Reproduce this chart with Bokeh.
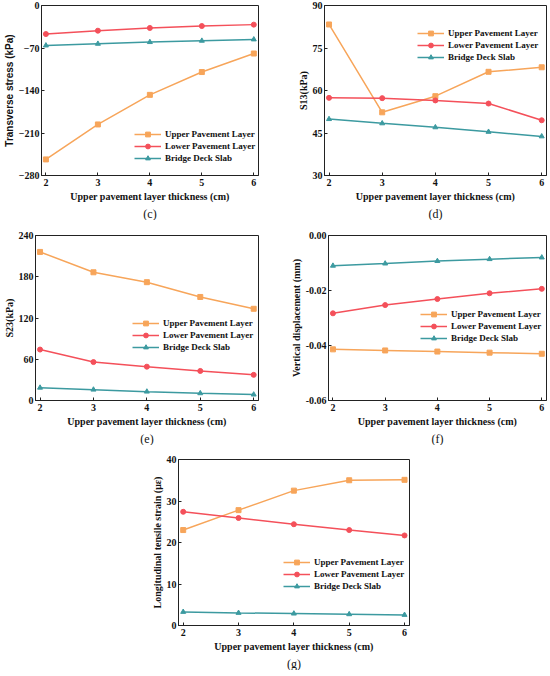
from bokeh.plotting import figure
from bokeh.layouts import column, row
from bokeh.models import Range1d, FixedTicker, Title, Legend, NumeralTickFormatter
from bokeh.embed import file_html
from bokeh.resources import INLINE

thickness = [2, 3, 4, 5, 6]
series_names = ["Upper Pavement Layer", "Lower Pavement Layer", "Bridge Deck Slab"]

# (c) Transverse stress (kPa)
c_upper = [-253.5, -195.9, -147.2, -109.6, -79.1]
c_lower = [-47.0, -41.5, -37.0, -33.8, -31.5]
c_bridge = [-65.9, -63.1, -60.3, -58.1, -55.9]

# (d) S13 (kPa)
d_upper = [83.3, 52.3, 58.0, 66.6, 68.2]
d_lower = [57.4, 57.3, 56.5, 55.4, 49.5]
d_bridge = [49.9, 48.4, 47.0, 45.4, 43.8]

# (e) S23 (kPa)
e_upper = [216.1, 186.5, 172.1, 150.6, 133.4]
e_lower = [74.1, 55.9, 49.2, 43.0, 37.3]
e_bridge = [18.6, 15.8, 12.9, 10.5, 8.6]

# (f) Vertical displacement (mm)
f_upper = [-0.0414, -0.0418, -0.0422, -0.0426, -0.0430]
f_lower = [-0.0283, -0.0253, -0.0231, -0.0210, -0.0194]
f_bridge = [-0.0110, -0.0102, -0.0093, -0.0086, -0.0080]

# (g) Longitudinal tensile strain (με)
g_upper = [23.0, 27.8, 32.5, 35.0, 35.1]
g_lower = [27.4, 25.9, 24.4, 23.0, 21.7]
g_bridge = [3.27, 3.03, 2.87, 2.71, 2.55]

COLORS = ["#F7A55A", "#F4505A", "#3C9AA0"]
MARKERS = ["square", "circle", "triangle"]
SERIF = "Liberation Serif"
XLABEL = "Upper pavement layer thickness (cm)"


def panel(width, height, borders, yrange, yticks, ylabel, caption, data,
          legend_loc, ylabel_font=SERIF, yfmt=None):
    left, right, top, bottom = borders
    p = figure(width=width, height=height, output_backend="svg",
               toolbar_location=None, x_range=Range1d(1.915, 6.09),
               y_range=Range1d(*yrange),
               min_border_left=left, min_border_right=right,
               min_border_top=top, min_border_bottom=bottom)
    p.grid.visible = False
    p.outline_line_color = "#222222"
    p.outline_line_width = 1
    p.background_fill_color = "white"
    p.border_fill_color = "white"
    for ax in (p.xaxis[0], p.yaxis[0]):
        ax.major_tick_in = 3
        ax.major_tick_out = 0
        ax.minor_tick_in = 0
        ax.minor_tick_out = 0
        ax.axis_line_color = "#222222"
        ax.major_tick_line_color = "#222222"
        ax.major_label_text_font = SERIF
        ax.major_label_text_font_style = "bold"
        ax.major_label_text_font_size = "10px"
        ax.major_label_text_color = "#111111"
        ax.axis_label_text_font_style = "bold"
        ax.axis_label_text_font_size = "10px"
        ax.axis_label_text_color = "#111111"
    p.xaxis[0].ticker = FixedTicker(ticks=thickness)
    p.xaxis[0].axis_label = XLABEL
    p.xaxis[0].axis_label_text_font = SERIF
    p.xaxis[0].axis_label_standoff = 2
    p.xaxis[0].major_label_standoff = 3
    p.yaxis[0].ticker = FixedTicker(ticks=yticks)
    p.yaxis[0].axis_label = ylabel
    p.yaxis[0].axis_label_text_font = ylabel_font
    p.yaxis[0].axis_label_standoff = 1
    p.yaxis[0].major_label_standoff = 2
    if yfmt:
        p.yaxis[0].formatter = NumeralTickFormatter(format=yfmt)

    items = []
    for name, ys, col, mk in zip(series_names, data, COLORS, MARKERS):
        r1 = p.line(thickness, ys, line_color=col, line_width=1.5)
        r2 = p.scatter(thickness, ys, marker=mk, size=5, fill_color=col,
                       line_color=col)
        items.append((name, [r1, r2]))
    leg = Legend(items=items, location=legend_loc)
    leg.border_line_color = None
    leg.background_fill_alpha = 0
    leg.label_text_font = SERIF
    leg.label_text_font_style = "bold"
    leg.label_text_font_size = "9px"
    leg.label_text_color = "#111111"
    leg.glyph_width = 27
    leg.glyph_height = 12
    leg.label_height = 12
    leg.spacing = 0
    leg.padding = 2
    leg.margin = 0
    leg.label_standoff = 4
    p.add_layout(leg, "center")

    cap = Title(text=caption, align="center", text_font=SERIF,
                text_font_style="normal", text_font_size="12px",
                text_color="#111111", standoff=0, offset=0)
    p.add_layout(cap, "below")
    return p


pc = panel(273, 220, (33, 15, 4, 45), (-280, 0), [-280, -210, -140, -70, 0],
           "Transverse stress (kPa)", "(c)", [c_upper, c_lower, c_bridge],
           (93, 11), ylabel_font="Liberation Sans")
pd_ = panel(274, 220, (51, 1, 5, 44), (30, 90), [30, 45, 60, 75, 90],
            "S13(kPa)", "(d)", [d_upper, d_lower, d_bridge], (93, 112))
pe = panel(273, 225, (30, 15, 14, 40), (0, 240), [0, 60, 120, 180, 240],
           "S23(kPa)", "(e)", [e_upper, e_lower, e_bridge], (97, 47))
pf = panel(274, 225, (55, 1, 15, 38), (-0.06, 0), [-0.06, -0.04, -0.02, 0.0],
           "Vertical displacement (mm)", "(f)", [f_upper, f_lower, f_bridge],
           (92, 56), yfmt="0.00")
pg = panel(547, 225, (178, 138, 14, 36), (0, 40), [0, 10, 20, 30, 40],
           "Longitudinal tensile strain (με)", "(g)", [g_upper, g_lower, g_bridge],
           (105, 33))

layout = column(row(pc, pd_), row(pe, pf), pg, spacing=0)

open("out.html", "w").write(file_html(layout, INLINE))
